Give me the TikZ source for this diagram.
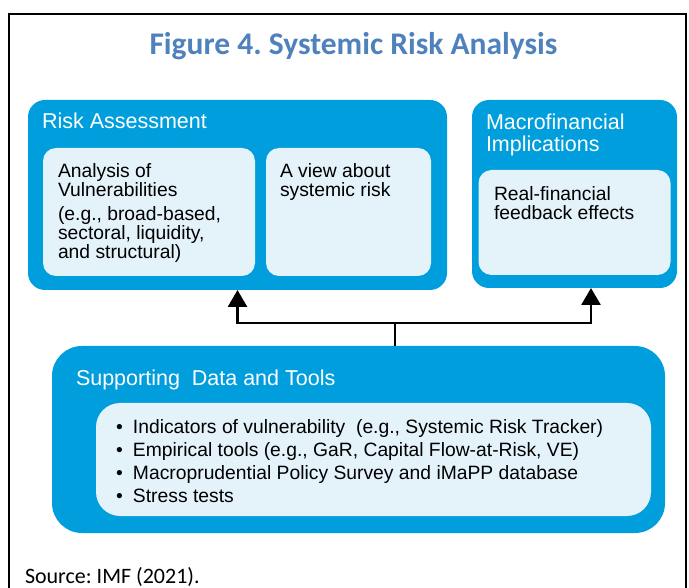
\documentclass[tikz,border=0pt]{standalone}
\usepackage{fontspec}
\setmainfont{Liberation Sans}
\newfontfamily\carlito{Carlito}
\usetikzlibrary{arrows.meta}
\definecolor{boxblue}{RGB}{0,158,220}
\definecolor{boxpale}{RGB}{228,242,250}
\definecolor{titleblue}{RGB}{79,129,189}
\frenchspacing

\begin{document}
\begin{tikzpicture}[x=1pt,y=1pt]
            \tikzstyle{every node}+=[inner sep=0pt, outer sep=0pt]
            \tikzstyle{outer}=[fill=boxblue, rounded corners=17pt, anchor=north west]
            \tikzstyle{inner}=[fill=boxpale, rounded corners=13pt, anchor=north west]
            \tikzstyle{head}=[text=white, anchor=base west, align=left, font=\fontsize{21.5}{22}\selectfont]
            \tikzstyle{body}=[anchor=base west, align=left, font=\fontsize{19.3}{19}\selectfont]
            \tikzstyle{link}=[line width=2.8pt, -{Triangle[length=17pt,width=19pt]}]
            \useasboundingbox (0,0) rectangle (689,-588);
            \draw [black, line width=2.5pt] (9,-588) -- (9,-14) -- (686,-14) -- (686,-588);
            \node (title) at (353.5,-46) {\carlito\bfseries\fontsize{31.5}{34}\selectfont\color{titleblue}Figure 4. Systemic Risk Analysis};
            % risk assessment (text nodes sit on the baseline of their last line)
            \node [outer, minimum width=419pt, minimum height=190pt] (risk) at (28,-100) {};
            \node [head] (risktitle) at (42,-129) {Risk Assessment};
            \node [inner, minimum width=212pt, minimum height=128pt] (vuln) at (43,-148) {};
            \node [body] (vulntext) at (58,-258.3) {Analysis of\\Vulnerabilities\\[4.3pt](e.g., broad-based,\\sectoral, liquidity,\\and structural)};
            \node [inner, minimum width=165pt, minimum height=128pt] (view) at (266,-148) {};
            \node [body] (viewtext) at (280,-196.7) {A view about\\systemic risk};
            % macrofinancial implications
            \node [outer, minimum width=205pt, minimum height=188pt] (macro) at (472,-100) {};
            \node [head] (macrotitle) at (486,-151.3) {Macrofinancial\\Implications};
            \node [inner, minimum width=192pt, minimum height=105pt] (feed) at (478.5,-170) {};
            \node [body] (feedtext) at (494,-220) {Real-financial\\feedback effects};
            % supporting data and tools
            \node [outer, minimum width=613pt, minimum height=187pt, rounded corners=30pt] (support) at (52,-346) {};
            \node [head] (supporttitle) at (76,-385) {Supporting\ \ Data and Tools};
            \node [inner, minimum width=555pt, minimum height=113pt, rounded corners=24pt] (tools) at (96,-403) {};
            \node [body, font=\fontsize{19.3}{23}\selectfont] (toolstext) at (116,-502) {%
              \makebox[17pt][l]{\textbullet}Indicators of vulnerability\ \ (e.g., Systemic Risk Tracker)\\
              \makebox[17pt][l]{\textbullet}Empirical tools (e.g., GaR, Capital Flow-at-Risk, VE)\\
              \makebox[17pt][l]{\textbullet}Macroprudential Policy Survey and iMaPP database\\
              \makebox[17pt][l]{\textbullet}Stress tests};
            % connectors
            \coordinate (fork) at (395,-323);
            \draw [line width=2.8pt] (support.north -| fork) -- (fork);
            \draw [link] (fork) -| (risk.south);
            \draw [link] (fork) -| (macro.south -| 591,0);
            \node [anchor=base west] (source) at (25,-583) {\carlito\fontsize{22}{24}\selectfont Source: IMF (2021).};
\end{tikzpicture}
\end{document}
